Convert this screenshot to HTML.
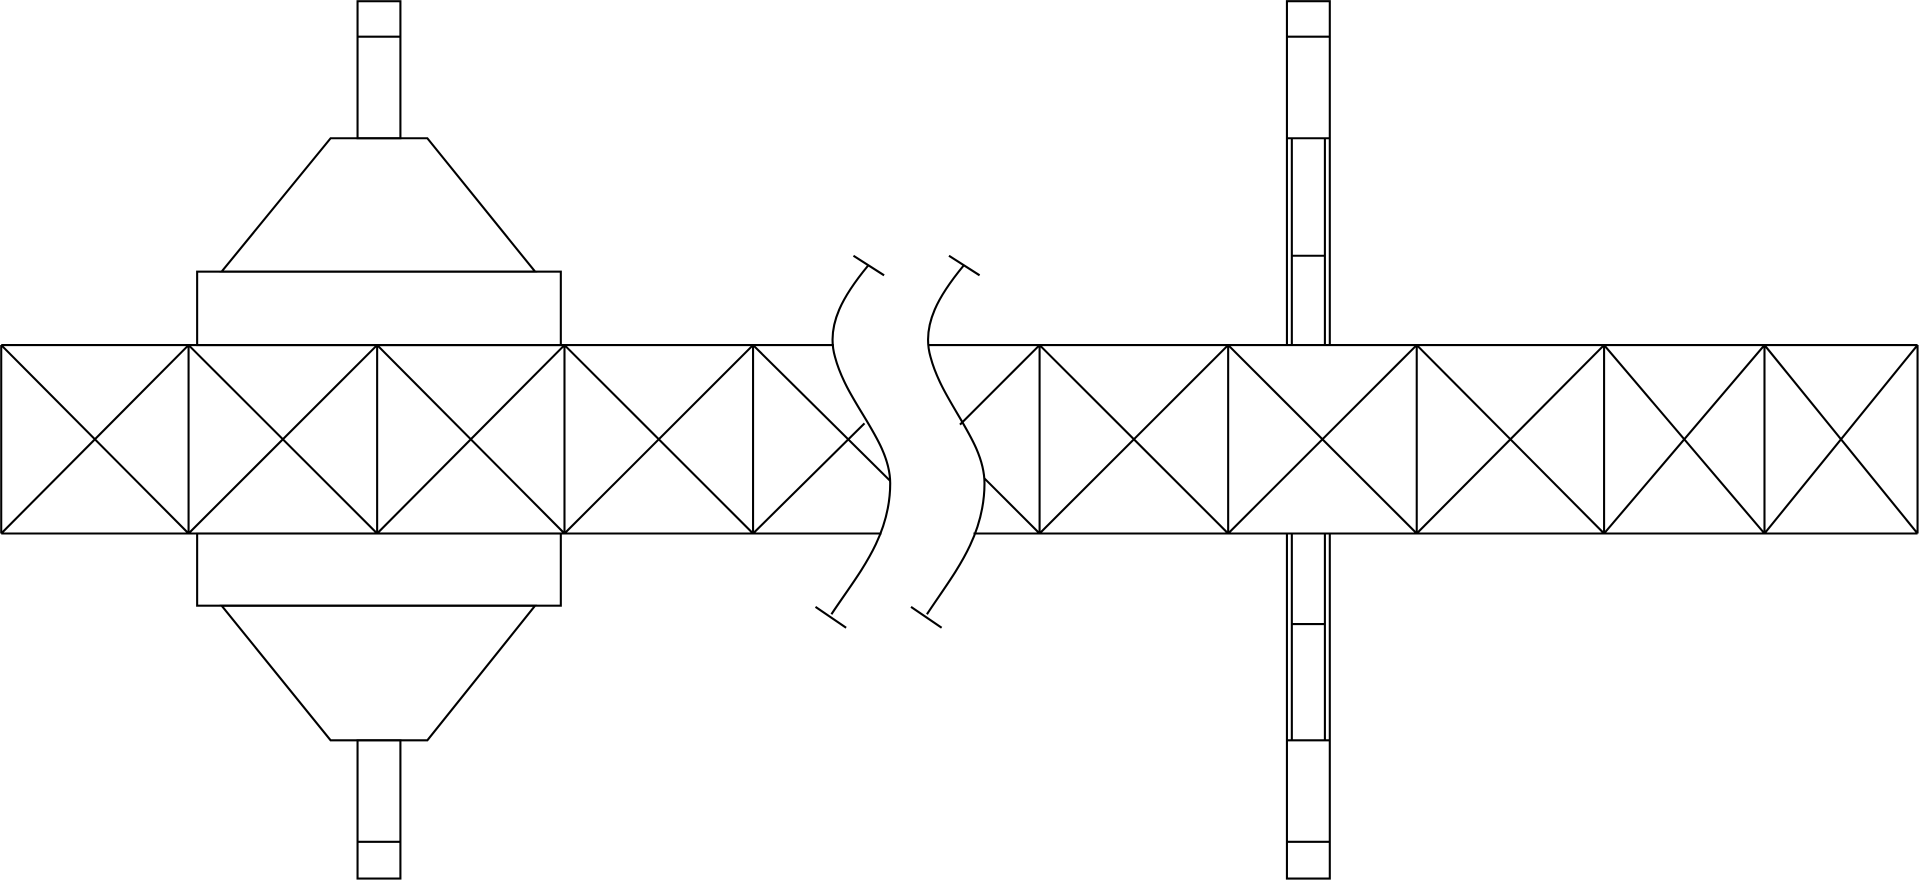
<!DOCTYPE html>
<html><head><style>html,body{margin:0;padding:0;background:#fff}svg{display:block}</style></head><body>
<svg width="1920" height="881" viewBox="0 0 1568 720" preserveAspectRatio="none" xmlns="http://www.w3.org/2000/svg">
<g fill="none" stroke="#000" stroke-width="1.7" stroke-linejoin="miter">
<!-- left columns -->
<rect x="292" y="1" width="35" height="112"/><line x1="292" y1="30" x2="327" y2="30"/>
<polygon points="270,113 349,113 437,222 181,222"/>
<rect x="161" y="222" width="297" height="60"/>
<rect x="161" y="436" width="297" height="59"/>
<polygon points="181,495 437,495 349,605 270,605"/>
<rect x="292" y="605" width="35" height="113"/><line x1="292" y1="688" x2="327" y2="688"/>
<!-- left truss -->
<line x1="1" y1="282" x2="681" y2="282"/><line x1="1" y1="436" x2="720" y2="436"/>
<line x1="1" y1="282" x2="1" y2="436"/><line x1="154" y1="282" x2="154" y2="436"/>
<line x1="308" y1="282" x2="308" y2="436"/><line x1="461" y1="282" x2="461" y2="436"/>
<line x1="615" y1="282" x2="615" y2="436"/>
<line x1="1" y1="282" x2="154" y2="436"/><line x1="1" y1="436" x2="154" y2="282"/>
<line x1="154" y1="282" x2="308" y2="436"/><line x1="154" y1="436" x2="308" y2="282"/>
<line x1="308" y1="282" x2="461" y2="436"/><line x1="308" y1="436" x2="461" y2="282"/>
<line x1="461" y1="282" x2="615" y2="436"/><line x1="461" y1="436" x2="615" y2="282"/>
<line x1="615" y1="282" x2="727" y2="393"/><line x1="615" y1="436" x2="706" y2="346"/>
<!-- break curves -->
<path d="M709,217 C690,240 674,265 682,292 C692,330 727,360 727,395 C727,440 700,470 679,502"/>
<line x1="697" y1="209" x2="722" y2="225"/><line x1="666" y1="496" x2="691" y2="513"/>
<path d="M787,217 C768,240 752,265 760,292 C770,330 804,360 804,395 C804,440 778,470 757,502"/>
<line x1="775" y1="209" x2="800" y2="225"/><line x1="744" y1="496" x2="769" y2="513"/>
<!-- right truss -->
<line x1="758" y1="282" x2="1566" y2="282"/><line x1="795" y1="436" x2="1566" y2="436"/>
<line x1="849" y1="282" x2="784" y2="347"/><line x1="849" y1="436" x2="804" y2="391"/>
<line x1="849" y1="282" x2="849" y2="436"/><line x1="1003" y1="282" x2="1003" y2="436"/>
<line x1="1157" y1="282" x2="1157" y2="436"/><line x1="1310" y1="282" x2="1310" y2="436"/>
<line x1="1441" y1="282" x2="1441" y2="436"/><line x1="1566" y1="282" x2="1566" y2="436"/>
<line x1="849" y1="282" x2="1003" y2="436"/><line x1="849" y1="436" x2="1003" y2="282"/>
<line x1="1003" y1="282" x2="1157" y2="436"/><line x1="1003" y1="436" x2="1157" y2="282"/>
<line x1="1157" y1="282" x2="1310" y2="436"/><line x1="1157" y1="436" x2="1310" y2="282"/>
<line x1="1310" y1="282" x2="1441" y2="436"/><line x1="1310" y1="436" x2="1441" y2="282"/>
<line x1="1441" y1="282" x2="1566" y2="436"/><line x1="1441" y1="436" x2="1566" y2="282"/>
<!-- right column -->
<polyline points="1051,282 1051,1 1086,1 1086,282"/>
<line x1="1051" y1="30" x2="1086" y2="30"/><line x1="1051" y1="113" x2="1086" y2="113"/>
<line x1="1055" y1="113" x2="1055" y2="282"/><line x1="1082" y1="113" x2="1082" y2="282"/>
<line x1="1055" y1="209" x2="1082" y2="209"/>
<polyline points="1051,436 1051,718 1086,718 1086,436"/>
<line x1="1055" y1="436" x2="1055" y2="605"/><line x1="1082" y1="436" x2="1082" y2="605"/>
<line x1="1055" y1="510" x2="1082" y2="510"/><line x1="1051" y1="605" x2="1086" y2="605"/>
<line x1="1051" y1="688" x2="1086" y2="688"/>
</g>
</svg>
</body></html>
